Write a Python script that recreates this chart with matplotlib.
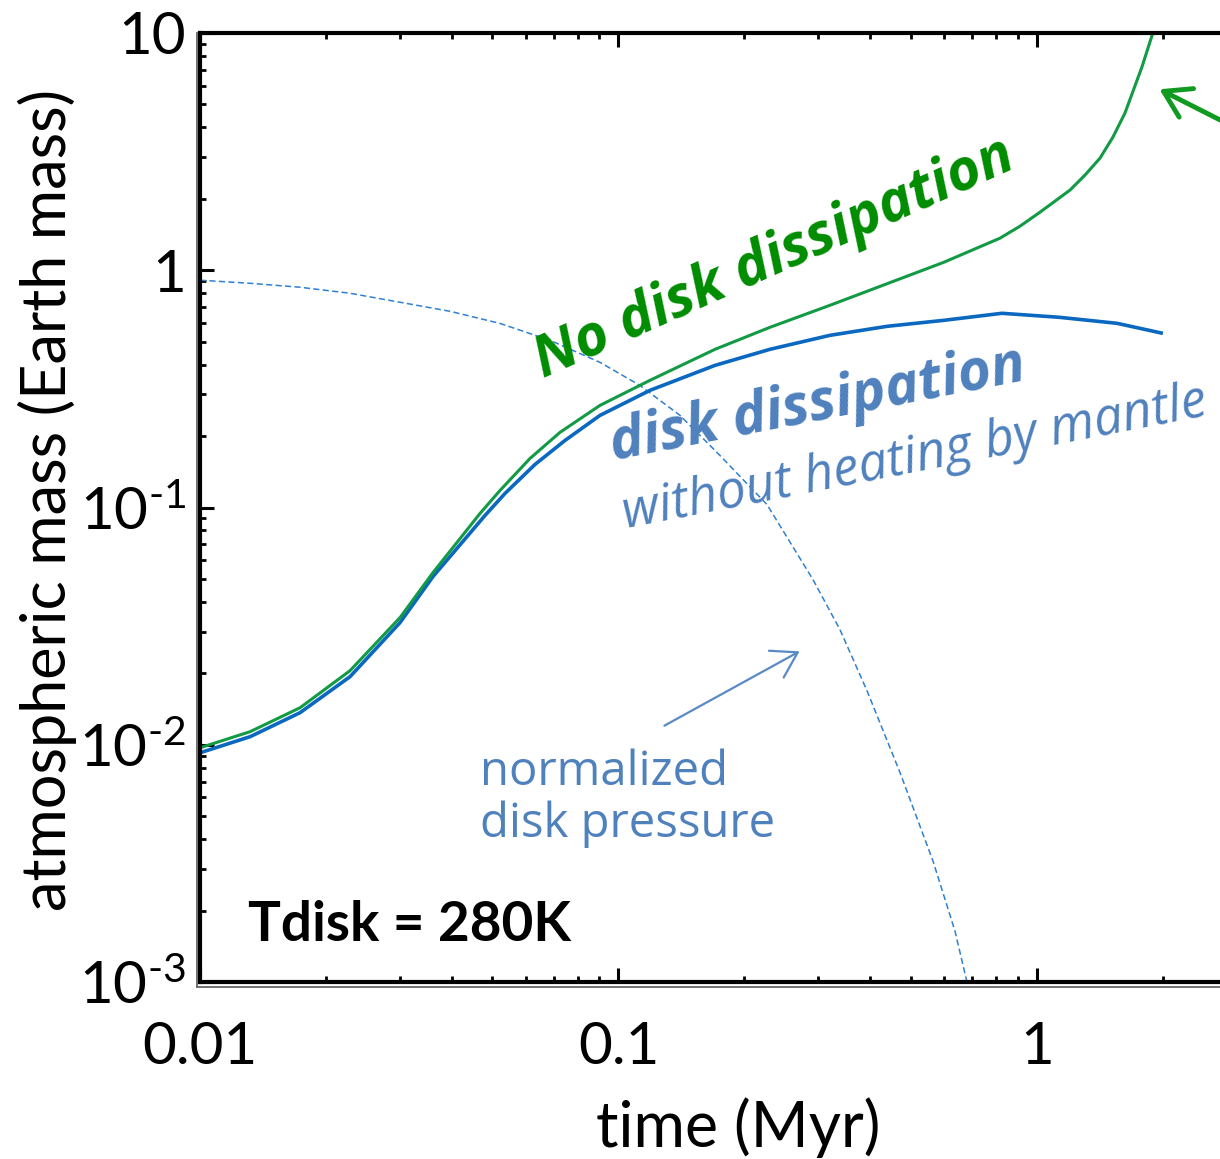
import matplotlib
matplotlib.use("Agg")
import matplotlib.pyplot as plt
from matplotlib.ticker import LogLocator, FixedLocator, FixedFormatter, NullFormatter
from matplotlib.lines import Line2D
from matplotlib.patches import FancyArrowPatch

# ---- data ----
t_green = [0.01, 0.01317, 0.01734, 0.02283, 0.03006, 0.03604, 0.04667, 0.05209, 0.06145,
           0.07247, 0.09033, 0.1189, 0.1701, 0.2301, 0.3201, 0.5995, 0.8159, 0.9107,
           1.017, 1.199, 1.302, 1.415, 1.519, 1.623, 1.782, 1.892]
m_green = [0.00971, 0.01135, 0.01432, 0.02052, 0.03435, 0.05317, 0.09434, 0.1179, 0.1609,
           0.2073, 0.2694, 0.3435, 0.4642, 0.5747, 0.7116, 1.081, 1.365, 1.533,
           1.757, 2.176, 2.516, 2.969, 3.640, 4.597, 7.19, 10.0]

t_blue = [0.01, 0.01317, 0.01734, 0.02283, 0.03006, 0.03604, 0.04797, 0.05356, 0.06318,
          0.07451, 0.09033, 0.1189, 0.1701, 0.2301, 0.3201, 0.4383, 0.5995, 0.8248,
          1.129, 1.553, 2.0]
m_blue = [0.00925, 0.01081, 0.01365, 0.01936, 0.03272, 0.05116, 0.09252, 0.1146, 0.1519,
          0.1917, 0.2445, 0.3117, 0.3973, 0.4642, 0.5317, 0.5803, 0.6152, 0.6585,
          0.6336, 0.5975, 0.542]

t_press = [0.01, 0.01317, 0.01734, 0.02283, 0.03006, 0.03958, 0.05209, 0.06862, 0.09033,
           0.1125, 0.1403, 0.1748, 0.2263, 0.2916, 0.3383, 0.3925, 0.471, 0.5643,
           0.6369, 0.6804]
m_press = [0.908, 0.8811, 0.848, 0.7998, 0.733, 0.6714, 0.597, 0.5066, 0.4090,
           0.3272, 0.2445, 0.1657, 0.1030, 0.04969, 0.03056, 0.01690, 0.007617, 0.003239,
           0.001641, 0.001]

xticks = [0.01, 0.1, 1]
xticklabels = ["0.01", "0.1", "1"]
yticks = [1e-3, 1e-2, 1e-1, 1, 10]
yticklabels = [r"$10^{\text{-}3}$", r"$10^{\text{-}2}$", r"$10^{\text{-}1}$", "1", "10"]

plt.rcParams['mathtext.fontset'] = 'custom'
plt.rcParams['mathtext.rm'] = 'Lato'
plt.rcParams['mathtext.it'] = 'Lato:italic'

W, H = 1220, 1159
fig = plt.figure(figsize=(W / 100, H / 100), dpi=100)
ax = fig.add_axes([200 / W, 1 - 982 / H, 1036.6 / W, (982 - 33) / H])
ax.set_xscale('log')
ax.set_yscale('log')
ax.set_xlim(0.01, 3.0)
ax.set_ylim(1e-3, 10)

GREEN = '#129a45'
BLUE = '#0a68c0'
TXTBLUE = '#4f81bd'

ax.plot(t_press, m_press, color='#2f80d0', lw=1.1, dashes=(4, 2.2))
ax.plot(t_blue, m_blue, color=BLUE, lw=2.6, solid_capstyle='butt', solid_joinstyle='round')
ax.plot(t_green, m_green, color=GREEN, lw=2.2, solid_capstyle='butt', solid_joinstyle='round')

for s in ax.spines.values():
    s.set_linewidth(3)
    s.set_color('black')

ax.xaxis.set_major_locator(FixedLocator(xticks))
ax.xaxis.set_major_formatter(FixedFormatter(xticklabels))
ax.xaxis.set_minor_locator(LogLocator(base=10, subs=range(2, 10), numticks=20))
ax.xaxis.set_minor_formatter(NullFormatter())
ax.yaxis.set_major_locator(FixedLocator(yticks))
ax.yaxis.set_major_formatter(FixedFormatter(yticklabels))
ax.yaxis.set_minor_locator(LogLocator(base=10, subs=range(2, 10), numticks=20))
ax.yaxis.set_minor_formatter(NullFormatter())

ax.tick_params(which='both', direction='in', top=True, right=False, bottom=True, left=True)
ax.tick_params(which='major', length=10, width=2.2)
ax.tick_params(which='minor', length=4.5, width=2)
ax.tick_params(axis='x', which='major', labelsize=42, pad=28)
ax.tick_params(axis='y', which='major', labelsize=42, pad=10)
for lab in ax.get_xticklabels() + ax.get_yticklabels():
    lab.set_fontfamily('Lato')

# outer thin frame lines (double-line look)
fig.add_artist(Line2D([196.5 / W, 196.5 / W], [1 - 987 / H, 1 - 33 / H],
                      color='#666666', lw=1.3, transform=fig.transFigure))
fig.add_artist(Line2D([196.5 / W, 1.0], [1 - 986.5 / H, 1 - 986.5 / H],
                      color='#666666', lw=1.3, transform=fig.transFigure))

# axis labels
fig.text(47 / W, 1 - 500 / H, "atmospheric mass (Earth mass)", rotation=90,
         ha='center', va='center', fontsize=44, family='Lato')
fig.text(738 / W, 1 - 1128 / H, "time (Myr)", ha='center', va='center',
         fontsize=45, family='Lato')

# annotations
fig.text(543 / W, 1 - 378 / H, "No disk dissipation", rotation=24, rotation_mode='anchor',
         ha='left', va='baseline', fontsize=41.5, color='#008c00', family='Open Sans',
         fontweight='bold', fontstyle='italic')
fig.text(613 / W, 1 - 460 / H, "disk dissipation", rotation=11, rotation_mode='anchor',
         ha='left', va='baseline', fontsize=41, color=TXTBLUE, family='Open Sans',
         fontweight='bold', fontstyle='italic')
fig.text(626 / W, 1 - 528 / H, "without heating by mantle", rotation=11, rotation_mode='anchor',
         ha='left', va='baseline', fontsize=37, color=TXTBLUE, family='Open Sans',
         fontstyle='italic')
fig.text(480 / W, 1 - 785 / H, "normalized", ha='left', va='baseline',
         fontsize=34, color=TXTBLUE, family='Open Sans')
fig.text(480 / W, 1 - 837 / H, "disk pressure", ha='left', va='baseline',
         fontsize=34, color=TXTBLUE, family='Open Sans')
fig.text(248 / W, 1 - 941 / H, "Tdisk = 280K", ha='left', va='baseline',
         fontsize=39.5, color='black', family='Lato', fontweight='bold')

# arrows
fig.add_artist(FancyArrowPatch(
    (662 / W, 1 - 727 / H), (802 / W, 1 - 650 / H), transform=fig.transFigure,
    arrowstyle='->,head_length=8,head_width=5', color='#5a8ac6', lw=1.6,
    mutation_scale=2.2))
fig.add_artist(FancyArrowPatch(
    (1230 / W, 1 - 125 / H), (1157 / W, 1 - 88 / H), transform=fig.transFigure,
    arrowstyle='->,head_length=8,head_width=5', color='#109a20', lw=3.5,
    mutation_scale=2.3))

fig.savefig("out.png", dpi=100)
